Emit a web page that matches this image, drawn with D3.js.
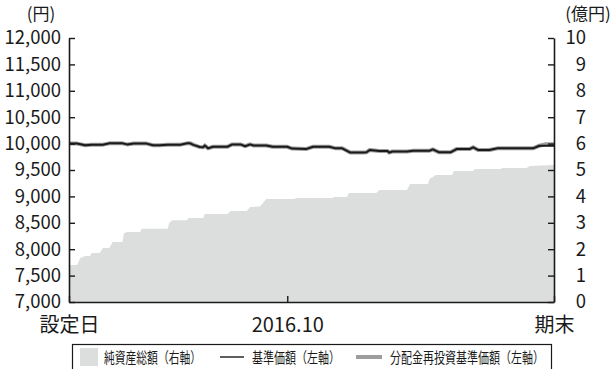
<!DOCTYPE html>
<html>
<head>
<meta charset="utf-8">
<script src="https://cdn.jsdelivr.net/npm/d3@7"></script>
<style>
  html, body { margin: 0; padding: 0; background: #fff; }
  svg { display: block; font-family: "Noto Sans CJK JP", "Noto Sans", sans-serif; }
</style>
</head>
<body>
<svg id="chart" width="615" height="369"></svg>
<script>
// 基準価額・分配金再投資基準価額（円）
const navDates = ["2016-05-19","2016-05-24","2016-05-29","2016-06-02","2016-06-09","2016-06-13","2016-06-21","2016-06-24","2016-06-28","2016-07-06","2016-07-10","2016-07-14","2016-07-19","2016-07-27","2016-07-31","2016-08-02","2016-08-04","2016-08-08","2016-08-10","2016-08-11","2016-08-13","2016-08-16","2016-08-25","2016-08-28","2016-09-02","2016-09-05","2016-09-08","2016-09-10","2016-09-18","2016-09-22","2016-10-01","2016-10-04","2016-10-13","2016-10-17","2016-10-27","2016-10-31","2016-11-04","2016-11-09","2016-11-17","2016-11-19","2016-11-21","2016-11-27","2016-12-02","2016-12-03","2016-12-05","2016-12-14","2016-12-18","2016-12-28","2016-12-30","2017-01-03","2017-01-10","2017-01-14","2017-01-22","2017-01-24","2017-01-27","2017-02-03","2017-02-08","2017-03-02","2017-03-06","2017-03-10","2017-03-15"];
const navValues = [10000,10000,9968,9980,9980,10005,10005,9985,10000,10000,9970,9970,9980,9980,10005,10005,9975,9935,9930,9965,9910,9940,9940,9985,9985,9950,9985,9965,9965,9940,9940,9905,9900,9940,9940,9910,9910,9830,9830,9835,9880,9860,9860,9830,9850,9850,9865,9865,9890,9835,9835,9900,9900,9930,9880,9880,9910,9910,9960,9960,9960];
const reinvestValues = [10000,10000,9968,9980,9980,10005,10005,9985,10000,10000,9970,9970,9980,9980,10005,10005,9975,9935,9930,9965,9910,9940,9940,9985,9985,9950,9985,9965,9965,9940,9940,9905,9900,9940,9940,9910,9910,9830,9830,9835,9880,9860,9860,9830,9850,9850,9865,9865,9890,9835,9835,9900,9900,9930,9880,9880,9910,9910,9960,9990,9990];

// 純資産総額（億円）
const assetDates = ["2016-05-19","2016-05-24","2016-05-26","2016-05-29","2016-06-01","2016-06-02","2016-06-07","2016-06-09","2016-06-13","2016-06-15","2016-06-21","2016-06-22","2016-06-24","2016-07-02","2016-07-03","2016-07-19","2016-07-20","2016-07-22","2016-07-31","2016-08-01","2016-08-10","2016-08-11","2016-08-25","2016-08-27","2016-09-06","2016-09-08","2016-09-14","2016-09-16","2016-09-18","2016-10-05","2016-10-07","2016-10-29","2016-10-30","2016-11-07","2016-11-08","2016-11-25","2016-11-27","2016-12-14","2016-12-16","2016-12-27","2016-12-28","2017-01-01","2017-01-11","2017-01-12","2017-01-24","2017-01-25","2017-02-10","2017-02-11","2017-02-26","2017-02-28","2017-03-15"];
const assetValues = [1.40,1.40,1.67,1.74,1.74,1.86,1.86,2.05,2.05,2.27,2.27,2.60,2.65,2.65,2.77,2.77,3.00,3.10,3.10,3.18,3.18,3.33,3.33,3.45,3.45,3.60,3.62,3.75,3.90,3.90,3.94,3.94,3.98,3.98,4.13,4.13,4.24,4.24,4.47,4.47,4.66,4.81,4.81,4.96,4.96,5.04,5.04,5.08,5.08,5.15,5.19];

// 目盛
const leftTicks = [7000,7500,8000,8500,9000,9500,10000,10500,11000,11500,12000];
const leftTickLabels = ["7,000","7,500","8,000","8,500","9,000","9,500","10,000","10,500","11,000","11,500","12,000"];
const rightTicks = [0,1,2,3,4,5,6,7,8,9,10];
const xTickDates = ["2016-05-19","2016-10-01","2017-03-15"];
const xTickLabels = ["設定日","2016.10","期末"];

const legendLabels = ["純資産総額（右軸）","基準価額（左軸）","分配金再投資基準価額（左軸）"];

const parse = d3.timeParse("%Y-%m-%d");
const svg = d3.select("#chart");

const plotLeft = 69, plotRight = 554, plotTop = 38, plotBottom = 302;
const x = d3.scaleTime().domain([parse(xTickDates[0]), parse(xTickDates[2])]).range([plotLeft, plotRight]);
const yL = d3.scaleLinear().domain([7000, 12000]).range([plotBottom, plotTop]);
const yR = d3.scaleLinear().domain([0, 10]).range([plotBottom, plotTop]);

const assets = assetDates.map((d, i) => ({ date: parse(d), v: assetValues[i] }));
const nav = navDates.map((d, i) => ({ date: parse(d), v: navValues[i] }));
const reinvest = navDates.map((d, i) => ({ date: parse(d), v: reinvestValues[i] }));

// 純資産総額（面）
svg.append("path")
  .datum(assets)
  .attr("fill", "#dcdddd")
  .attr("d", d3.area().x(d => x(d.date)).y0(yR(0)).y1(d => yR(d.v)));

// 分配金再投資基準価額（灰色の太線）
svg.append("path")
  .datum(reinvest)
  .attr("fill", "none")
  .attr("stroke", "#9d9d9d")
  .attr("stroke-width", 4)
  .attr("stroke-linejoin", "round")
  .attr("d", d3.line().x(d => x(d.date)).y(d => yL(d.v)));

// 基準価額（黒線）
svg.append("path")
  .datum(nav)
  .attr("fill", "none")
  .attr("stroke", "#1a1a1a")
  .attr("stroke-width", 2)
  .attr("stroke-linejoin", "round")
  .attr("d", d3.line().x(d => x(d.date)).y(d => yL(d.v)));

// 軸
const styleAxis = g => {
  g.select(".domain").attr("stroke", "#1a1a1a").attr("stroke-width", 1.6);
  g.selectAll(".tick line").attr("stroke", "#1a1a1a").attr("stroke-width", 1.4);
  g.selectAll(".tick text").attr("fill", "#1a1a1a").attr("font-size", 18.5)
    .attr("font-family", "'Noto Sans CJK JP', 'Noto Sans', sans-serif");
};

svg.append("g")
  .attr("transform", `translate(${plotLeft},0)`)
  .call(d3.axisLeft(yL).tickValues(leftTicks)
    .tickFormat((d, i) => leftTickLabels[i]).tickSize(-6).tickSizeOuter(0).tickPadding(8))
  .call(styleAxis);

svg.append("g")
  .attr("transform", `translate(${plotRight},0)`)
  .call(d3.axisRight(yR).tickValues(rightTicks).tickFormat(d3.format("d"))
    .tickSize(-6).tickSizeOuter(0))
  .call(styleAxis)
  .call(g => g.selectAll(".tick text").attr("text-anchor", "end").attr("x", 32));

svg.append("g")
  .attr("transform", `translate(0,${plotBottom})`)
  .call(d3.axisBottom(x).tickValues(xTickDates.map(parse))
    .tickFormat((d, i) => xTickLabels[i]).tickSize(-6).tickSizeOuter(0).tickPadding(15.5))
  .call(styleAxis)
  .call(g => g.selectAll(".tick text").attr("font-size", 20));

// 単位
svg.append("text").attr("x", 41).attr("y", 20).attr("text-anchor", "middle")
  .attr("font-size", 17).attr("fill", "#1a1a1a").text("(円)");
svg.append("text").attr("x", 588).attr("y", 20).attr("text-anchor", "middle")
  .attr("font-size", 17).attr("fill", "#1a1a1a").text("(億円)");

// 凡例
const lg = svg.append("g");
lg.append("rect").attr("x", 72.5).attr("y", 344.5).attr("width", 479).attr("height", 40)
  .attr("fill", "#fff").attr("stroke", "#1a1a1a").attr("stroke-width", 1.2);
lg.append("rect").attr("x", 80).attr("y", 348).attr("width", 18).attr("height", 18).attr("fill", "#dcdddd");
lg.append("line").attr("x1", 220).attr("x2", 244).attr("y1", 357).attr("y2", 357)
  .attr("stroke", "#1a1a1a").attr("stroke-width", 1.4);
lg.append("line").attr("x1", 356).attr("x2", 382).attr("y1", 357).attr("y2", 357)
  .attr("stroke", "#9d9d9d").attr("stroke-width", 4);
const legendPos = [[104, 97], [252, 88], [390, 154]];
legendLabels.forEach((t, i) => {
  lg.append("text").attr("x", legendPos[i][0]).attr("y", 362.5)
    .attr("font-size", 15).attr("fill", "#1a1a1a")
    .attr("textLength", legendPos[i][1]).attr("lengthAdjust", "spacingAndGlyphs")
    .text(t);
});
</script>
</body>
</html>
